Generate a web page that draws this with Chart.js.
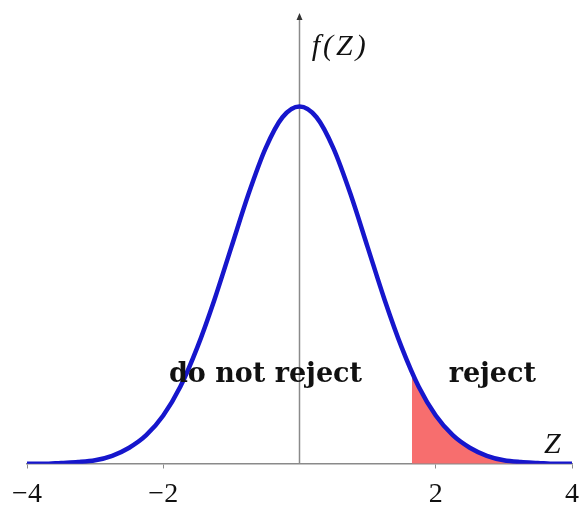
<!DOCTYPE html>
<html>
<head>
<meta charset="utf-8">
<script src="https://cdn.jsdelivr.net/npm/chart.js@4.4.1/dist/chart.umd.min.js"></script>
<style>
  html, body { margin: 0; padding: 0; background: #fff; }
  #wrap { width: 581px; height: 505px; position: relative; }
</style>
</head>
<body>
<div id="wrap"><canvas id="chart"></canvas></div>
<script>
'use strict';

// density curve (step 0.25)
var zValues = [-4, -3.75, -3.5, -3.25, -3, -2.75, -2.5, -2.25, -2, -1.75, -1.5, -1.25, -1, -0.75, -0.5, -0.25,
  0, 0.25, 0.5, 0.75, 1, 1.25, 1.5, 1.75, 2, 2.25, 2.5, 2.75, 3, 3.25, 3.5, 3.75, 4];
var density = [0.000, 0.000, 0.001, 0.002, 0.004, 0.009, 0.018, 0.032, 0.054, 0.086, 0.130, 0.183, 0.242, 0.301, 0.352, 0.387,
  0.399, 0.387, 0.352, 0.301, 0.242, 0.183, 0.130, 0.086, 0.054, 0.032, 0.018, 0.009, 0.004, 0.002, 0.001, 0.000, 0.000];

// shaded rejection region
var rejectZ = [1.65, 1.75, 2, 2.25, 2.5, 2.75, 3, 3.25, 3.5, 3.75, 4];
var rejectDensity = [0.102, 0.086, 0.054, 0.032, 0.018, 0.009, 0.004, 0.002, 0.001, 0.000, 0.000];

var xTicks = [-4, -2, 2, 4];

function pairs (xs, ys) {
  var out = [];
  for (var i = 0; i < xs.length; i++) {
    out.push({ x: xs[i], y: ys[i] });
  }
  return out;
}

var GRAY = '#8a8a8a';

var axesPlugin = {
  id: 'axesAndLabels',
  beforeDatasetsDraw: function (chart) {
    var ctx = chart.ctx;
    var xs = chart.scales.x;
    var ys = chart.scales.y;
    var x0 = xs.getPixelForValue(0);
    var yBottom = ys.getPixelForValue(0);
    var yTop = ys.getPixelForValue(ys.max);
    ctx.save();
    ctx.strokeStyle = GRAY;
    ctx.lineWidth = 1.5;
    ctx.beginPath();
    ctx.moveTo(x0, yBottom);
    ctx.lineTo(x0, yTop);
    ctx.stroke();
    // arrowhead on f(Z) axis
    ctx.fillStyle = '#333';
    ctx.beginPath();
    ctx.moveTo(x0, yTop - 3);
    ctx.lineTo(x0 - 3, yTop + 4);
    ctx.lineTo(x0 + 3, yTop + 4);
    ctx.closePath();
    ctx.fill();
    ctx.restore();
  },
  afterDatasetsDraw: function (chart) {
    var ctx = chart.ctx;
    var xs = chart.scales.x;
    var ys = chart.scales.y;
    function put (text, x, y, font, align, spacing) {
      ctx.font = font;
      ctx.textAlign = align;
      ctx.letterSpacing = spacing || '0px';
      ctx.fillText(text, xs.getPixelForValue(x), ys.getPixelForValue(y));
    }
    ctx.save();
    ctx.fillStyle = '#111';
    ctx.textBaseline = 'alphabetic';
    put('do not reject', -0.5, 0.0915, 'bold 27px "DejaVu Serif"', 'center');
    put('reject', 2.83, 0.0915, 'bold 27px "DejaVu Serif"', 'center');
    put('Z', 3.71, 0.0123, 'italic 30px "Liberation Serif"', 'center');
    put('f(Z)', 0.18, 0.4565, 'italic 30px "Liberation Serif"', 'left', '3px');
    ctx.restore();
  }
};

var chart = new Chart(document.getElementById('chart'), {
  type: 'line',
  data: {
    datasets: [{
      label: 'f(Z)',
      data: pairs(zValues, density),
      borderColor: '#1616cc',
      borderWidth: 4.5,
      pointRadius: 0,
      cubicInterpolationMode: 'monotone',
      fill: false,
      order: 1
    }, {
      label: 'reject',
      data: pairs(rejectZ, rejectDensity),
      borderWidth: 0,
      borderColor: 'rgba(0,0,0,0)',
      backgroundColor: '#f76e6e',
      pointRadius: 0,
      cubicInterpolationMode: 'monotone',
      fill: 'origin',
      order: 2
    }]
  },
  options: {
    responsive: true,
    maintainAspectRatio: false,
    animation: false,
    layout: { padding: { left: 27, right: 9, top: 16, bottom: 0 } },
    plugins: {
      legend: { display: false },
      tooltip: { enabled: false }
    },
    scales: {
      x: {
        type: 'linear',
        min: -4,
        max: 4,
        afterBuildTicks: function (scale) {
          scale.ticks = xTicks.map(function (v) { return { value: v }; });
        },
        ticks: {
          color: '#111',
          padding: 0,
          maxRotation: 0,
          autoSkip: false,
          font: { family: 'Liberation Serif', size: 28, lineHeight: 0.72 },
          callback: function (v) { return v < 0 ? '\u2212' + Math.abs(v) : String(v); }
        },
        // long tick slot, but only a short visible mark below the axis
        grid: { drawOnChartArea: false, drawTicks: true, tickLength: 21, tickBorderDash: [4, 60], color: GRAY },
        border: { display: true, color: GRAY, width: 1.5 }
      },
      y: {
        display: false,
        min: 0,
        max: 0.5
      }
    }
  },
  plugins: [axesPlugin]
});
</script>
</body>
</html>
